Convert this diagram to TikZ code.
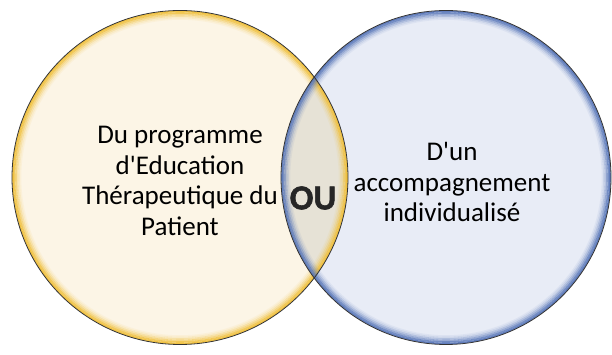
\documentclass[tikz,border=0pt]{standalone}
\usepackage{fontspec}
\newfontfamily\calibri{Carlito}
\newfontfamily\heavy{Carlito}[BoldFeatures={FakeBold=1.6}]
\usetikzlibrary{shapes.geometric}

\definecolor{cream}{RGB}{252,245,230}
\definecolor{paleblue}{RGB}{232,236,246}
\definecolor{lens}{RGB}{230,226,214}
\definecolor{gold}{RGB}{240,192,60}
\definecolor{steel}{RGB}{90,120,185}

\tikzset{
  bubble/.style={ellipse, inner sep=0pt, draw=black!80, line width=0.8pt},
  label/.style={align=center, font=\calibri\fontsize{27}{30.5}\selectfont},
}

\begin{document}
\begin{tikzpicture}[x=1pt, y=1pt]
        \useasboundingbox (0,0) rectangle (612,355);
        \fill[cream] (180,177.5) ellipse [x radius=168, y radius=167];
        \fill[paleblue] (446,177.5) ellipse [x radius=165, y radius=167];
        \begin{scope}
            \clip (180,177.5) ellipse [x radius=168, y radius=167];
            \fill[lens] (446,177.5) ellipse [x radius=165, y radius=167];
        \end{scope}
        % rims
        \foreach \d/\o in {1/0.95, 2.5/0.8, 4/0.55, 5.5/0.35, 7/0.18, 8.5/0.08}
            \draw[gold, line width=1.6pt, opacity=\o] (180,177.5) ellipse [x radius=168-\d, y radius=167-\d];
        \foreach \d/\o in {1/0.95, 2.5/0.8, 4/0.55, 5.5/0.35, 7/0.18, 8.5/0.08}
            \draw[steel, line width=1.6pt, opacity=\o] (446,177.5) ellipse [x radius=165-\d, y radius=167-\d];
        \node[bubble, minimum width=336pt, minimum height=334pt] (edu) at (180,177.5) {};
        \node[bubble, minimum width=330pt, minimum height=334pt] (acc) at (446,177.5) {};
        \node[label] (edutext) at (180,174) {Du programme\\d'Education\\Thérapeutique du\\Patient};
        \node[label] (acctext) at (452,173) {D'un\\accompagnement\\individualisé};
        \node[font=\heavy\fontsize{35}{35}\selectfont\bfseries, text=black!85] (ou) at (313,157) {OU};
\end{tikzpicture}
\end{document}
